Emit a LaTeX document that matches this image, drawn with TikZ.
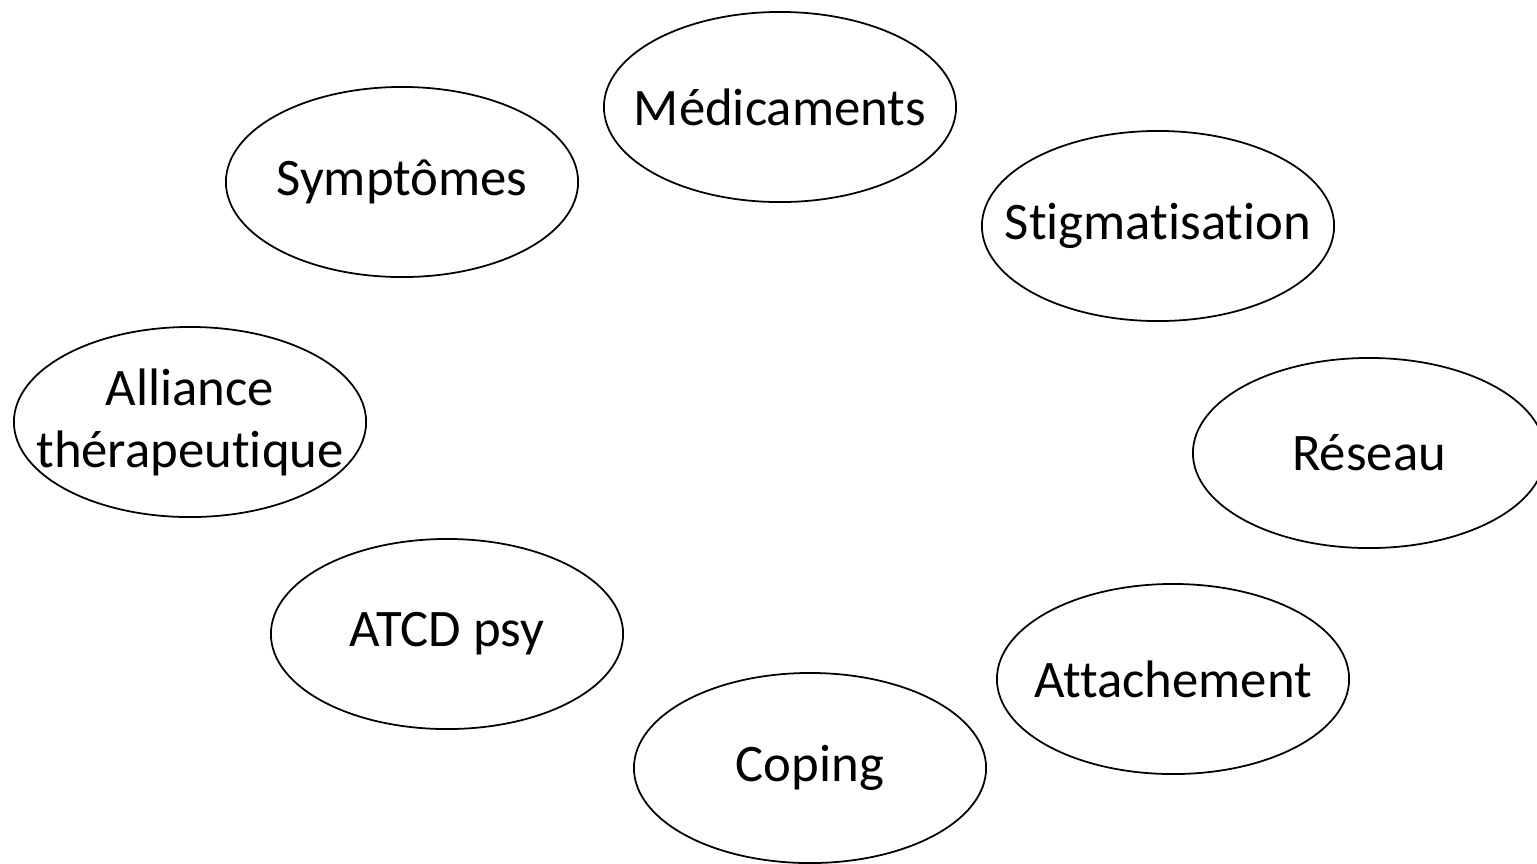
\documentclass[tikz,border=0pt]{standalone}
\usepackage{fontspec}
\setmainfont{Carlito}[Ligatures=NoCommon]
\usetikzlibrary{shapes.geometric, positioning}

\begin{document}
\begin{tikzpicture}[x=0.01cm, y=-0.01cm,
        theme/.style={draw, ellipse, line width=0.5pt, minimum width=3.52cm, minimum height=1.90cm,
            inner xsep=-0.5cm, inner ysep=0pt, align=center, font=\fontsize{15}{17.6}\selectfont}]
        \useasboundingbox (0,0) rectangle (1537,863);
        \node[theme] (medic) at (780,107) {Médicaments};
        \node[theme] (sympt) at (402,182) {Symptômes};
        \node[theme] (stigma) at (1158,226) {Stigmatisation};
        \node[theme] (alliance) at (190,422) {Alliance\\thérapeutique};
        \node[theme] (reseau) at (1369,453) {Réseau};
        \node[theme] (atcd) at (447,634) {ATCD psy};
        \node[theme] (attach) at (1173,679) {Attachement};
        \node[theme] (coping) at (810,768) {Coping};
    \end{tikzpicture}
\end{document}
